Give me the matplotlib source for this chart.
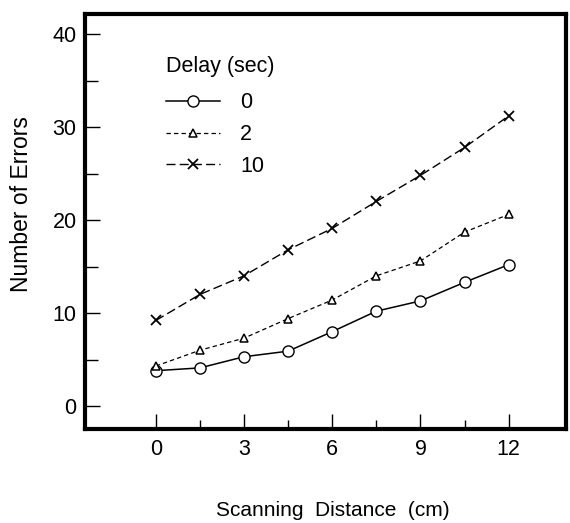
import matplotlib
matplotlib.use("Agg")
import matplotlib.pyplot as plt

distance = [0, 1.5, 3, 4.5, 6, 7.5, 9, 10.5, 12]
delay_0 = [3.8, 4.1, 5.3, 5.9, 8.0, 10.2, 11.3, 13.3, 15.2]
delay_2 = [4.3, 6.0, 7.3, 9.4, 11.4, 14.0, 15.6, 18.7, 20.6]
delay_10 = [9.2, 12.0, 14.0, 16.8, 19.1, 22.0, 24.8, 27.8, 31.2]
series_labels = ["0", "2", "10"]
x_ticks = [0, 3, 6, 9, 12]
x_minor = [1.5, 4.5, 7.5, 10.5]
y_ticks = [0, 10, 20, 30, 40]
y_minor = [5, 15, 25, 35]

FONT = ['Liberation Sans', 'DejaVu Sans']
plt.rcParams['font.family'] = FONT
fig = plt.figure(figsize=(5.70, 5.23), dpi=100)
ax = fig.add_axes([85/570, (523-429)/523, (566-85)/570, (429-14)/523])

ax.plot(distance, delay_0, color='black', lw=1.1, ls='-', marker='o',
        ms=8, mfc='white', mec='black', mew=1.0, label=series_labels[0])
ax.plot(distance, delay_2, color='black', lw=0.9, ls=(0, (3.5, 2.5)), marker='^',
        ms=6, mfc='white', mec='black', mew=1.1, label=series_labels[1])
ax.plot(distance, delay_10, color='black', lw=1.0, ls=(0, (6.5, 3)), marker='x',
        ms=7, mec='black', mew=1.3, label=series_labels[2])

ax.set_xlim(-2.41, 13.95)
ax.set_ylim(-2.47, 42.15)
ax.set_xticks(x_ticks)
ax.set_xticks(x_minor, minor=True)
ax.set_yticks(y_ticks)
ax.set_yticks(y_minor, minor=True)
ax.tick_params(axis='both', which='both', direction='in', labelsize=15.5, width=1.0, colors='black')
ax.tick_params(axis='x', which='major', length=10.5, pad=7)
ax.tick_params(axis='x', which='minor', length=6.5)
ax.tick_params(axis='y', which='major', length=11, pad=6)
ax.tick_params(axis='y', which='minor', length=9)
for s in ax.spines.values():
    s.set_linewidth(3.0)

fig.text(22/570, 1 - 204/523, "Number of Errors", rotation=90, ha='center', va='center', fontsize=16.5)
fig.text(333/570, 1 - 511/523, "Scanning  Distance  (cm)", ha='center', va='center', fontsize=15)

leg = ax.legend(title="Delay (sec)", frameon=False, loc='upper left',
                bbox_to_anchor=((166-85)/481, (429-56)/415), fontsize=15.5, title_fontsize=15.5,
                handlelength=2.5, handletextpad=0.95, labelspacing=0.5,
                borderpad=0, borderaxespad=0)
leg._legend_box.align = "left"
leg._legend_box.sep = 11

fig.savefig("out.png", dpi=100)
